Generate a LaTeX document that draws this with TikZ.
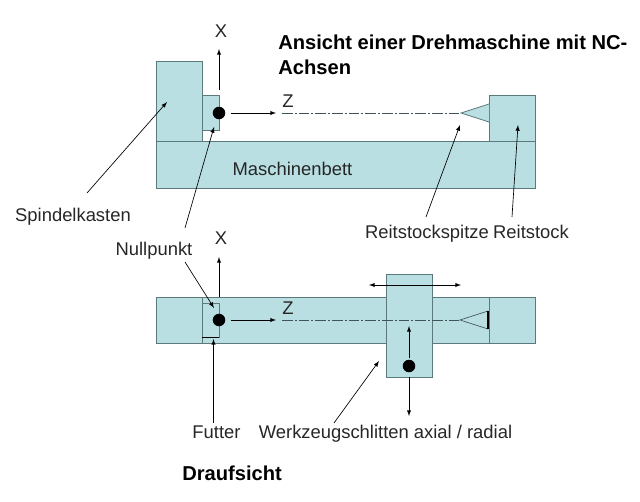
\documentclass[tikz,border=0pt]{standalone}
\usepackage{fontspec}
\setmainfont{Liberation Sans}
\definecolor{partfill}{HTML}{B9DFE2}
\definecolor{partline}{HTML}{5C7A7C}
\tikzset{
	part/.style 2 args={draw=partline,fill=partfill,line width=0.6pt,inner sep=0pt,minimum width=#1*0.75pt,minimum height=#2*0.75pt},
	origin/.style={circle,fill=black,inner sep=0pt,minimum size=9.4pt},
	lbl/.style={anchor=base,inner sep=1pt,text=black!85,font=\fontsize{13.8}{16}\selectfont},
	headline/.style={inner sep=0pt,align=left,font=\fontsize{15.1}{18.4}\selectfont\bfseries},
	axisline/.style={draw=partline!70!black,line width=0.5pt,dash pattern=on 8pt off 1.5pt on 1.5pt off 1.5pt}
}
\begin{document}
\begin{tikzpicture}[x=0.75pt,y=-0.75pt,>=latex,line width=0.5pt]
	\useasboundingbox (0,0) rectangle (640,502);
	% side view
	\node[part={46}{80}] (spindel) at (179,101) {};
	\node[part={379}{47}] (bed) at (345.5,164.5) {};
	\node[part={17}{35}] (chuck) at (210.5,112.5) {};
	\node[part={46}{46}] (tailstock) at (512,118) {};
	\draw[draw=partline,fill=partfill,line width=0.6pt] (489,104) -- (461,113) -- (489,122);
	\node[origin] (dotA) at (219,113) {};
	\coordinate (axisA) at (282,113);
	\coordinate (tipA) at (461,113);
	\draw[axisline] (axisA) -- (tipA);
	\node[lbl] (xA) at (221,38) {X};
	\node[lbl] (zA) at (288,108) {Z};
	\node[lbl] (bedlabel) at (292.5,176) {Maschinenbett};
	\node[headline,anchor=north west] (title) at (278,35) {Ansicht einer Drehmaschine mit NC-\\Achsen};
	\node[lbl] (spindellabel) at (73,222) {Spindelkasten};
	\node[lbl] (nulllabel) at (154,255.5) {Nullpunkt};
	\node[lbl] (spitzelabel) at (427,239) {Reitstockspitze};
	\node[lbl] (reitlabel) at (531,239) {Reitstock};
	\coordinate (xAfrom) at (219,90);
	\coordinate (xAto) at (219,49);
	\coordinate (zAto) at (276,113);
	\coordinate (spindelfrom) at (87,193);
	\coordinate (spindelto) at (167,102);
	\coordinate (nullAfrom) at (185,228);
	\coordinate (nullAto) at (214,127);
	\coordinate (spitzefrom) at (426,217);
	\coordinate (spitzeto) at (460,125);
	\coordinate (reitfrom) at (512,217);
	\coordinate (reitto) at (518,125);
	\path[->]
	(xAfrom) edge (xAto)
	(dotA) edge [shorten <=4pt] (zAto)
	(spindelfrom) edge (spindelto)
	(nullAfrom) edge (nullAto)
	(spitzefrom) edge (spitzeto)
	(reitfrom) edge (reitto);
	% top view
	\node[part={379}{46}] (bedB) at (345.5,320) {};
	\coordinate (splitA) at (202,297);
	\coordinate (splitB) at (202,343);
	\coordinate (splitC) at (489,297);
	\coordinate (splitD) at (489,343);
	\draw[draw=partline,line width=0.6pt] (splitA) -- (splitB) (splitC) -- (splitD);
	\node[part={17}{34}] (chuckB) at (210.5,320) {};
	\draw[line width=0.7pt] (chuckB.south west) -- (chuckB.south east);
	\node[part={46}{103}] (slide) at (409,325.5) {};
	\node[origin] (dotB) at (219,320) {};
	\node[origin] (dotC) at (409,366) {};
	\coordinate (axisB) at (282,320);
	\coordinate (tipB) at (460,320);
	\draw[axisline] (axisB) -- (tipB);
	\draw[partline!70!black,line width=0.5pt] (488,311) -- (tipB) -- (488,329);
	\draw[black,line width=1pt] (488,311) -- (488,329);
	\node[lbl] (xB) at (221,245) {X};
	\node[lbl] (zB) at (288,315) {Z};
	\node[lbl] (futterlabel) at (216.5,439) {Futter};
	\node[lbl] (toollabel) at (385.5,439) {Werkzeugschlitten axial / radial};
	\node[headline,anchor=north west] (subtitle) at (182,466) {Draufsicht};
	\coordinate (xBfrom) at (219,297);
	\coordinate (xBto) at (219,257);
	\coordinate (zBto) at (276,320);
	\coordinate (nullBfrom) at (185,262);
	\coordinate (nullBto) at (214,308);
	\coordinate (futterfrom) at (213.5,423);
	\coordinate (futterto) at (213.5,339);
	\coordinate (moveL) at (369,285);
	\coordinate (moveR) at (461,285);
	\coordinate (upto) at (409,326);
	\coordinate (downto) at (409,416);
	\coordinate (toolfrom) at (334,423);
	\coordinate (toolto) at (379,361);
	\path[->]
	(xBfrom) edge (xBto)
	(dotB) edge [shorten <=4pt] (zBto)
	(nullBfrom) edge (nullBto)
	(futterfrom) edge (futterto)
	(dotC) edge [shorten <=1pt] (upto)
	(slide.south -| dotC) edge (downto)
	(toolfrom) edge (toolto);
	\path[<->] (moveL) edge (moveR);
\end{tikzpicture}
\end{document}
